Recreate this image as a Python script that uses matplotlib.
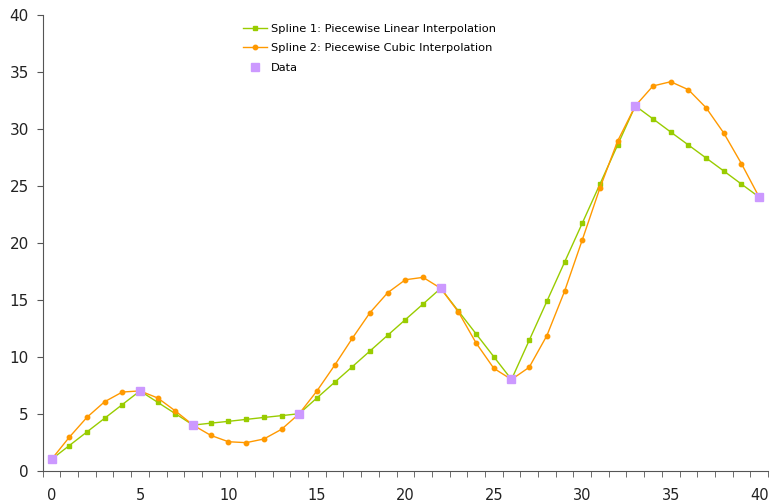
import matplotlib
matplotlib.use('Agg')
import matplotlib.pyplot as plt

# data points
data_x = [0, 5, 8, 14, 22, 26, 33, 40]
data_y = [1, 7, 4, 5, 16, 8, 32, 24]

xs = list(range(41))
linear_y = [1.0, 2.2, 3.4, 4.6, 5.8, 7.0, 6.0, 5.0, 4.0, 4.17, 4.33, 4.5, 4.67, 4.83,
            5.0, 6.38, 7.75, 9.12, 10.5, 11.88, 13.25, 14.62, 16.0, 14.0, 12.0, 10.0,
            8.0, 11.43, 14.86, 18.29, 21.71, 25.14, 28.57, 32.0, 30.86, 29.71, 28.57,
            27.43, 26.29, 25.14, 24.0]
cubic_y = [1.0, 2.93, 4.68, 6.05, 6.9, 7.0, 6.38, 5.24, 4.0, 3.1, 2.54, 2.46, 2.78, 3.63,
           5.0, 6.99, 9.24, 11.61, 13.86, 15.61, 16.75, 16.96, 16.0, 13.92, 11.2, 8.98,
           8.0, 9.07, 11.85, 15.74, 20.24, 24.8, 28.92, 32.0, 33.75, 34.12, 33.42, 31.84,
           29.62, 26.93, 24.0]

fig = plt.figure(figsize=(7.72, 5.03), dpi=100)
ax = fig.add_axes([42.7 / 772, 1 - 470.7 / 503, (768 - 42.7) / 772, (470.7 - 14.7) / 503])

ax.plot(xs, linear_y, color='#99cc00', lw=1, marker='s', ms=3.2,
        label='Spline 1: Piecewise Linear Interpolation')
ax.plot(xs, cubic_y, color='#ff9900', lw=1, marker='o', ms=3.2,
        label='Spline 2: Piecewise Cubic Interpolation')
ax.plot(data_x, data_y, ls='none', marker='s', ms=6, color='#cc99ff', label='Data')

ax.set_xlim(-0.5, 40.5)
ax.set_ylim(0, 40)
ax.set_xticks(range(0, 41, 5))
ax.set_xticks([i - 0.5 for i in range(42)], minor=True)
ax.set_yticks(range(0, 41, 5))

for s in ['top', 'right']:
    ax.spines[s].set_visible(False)
for s in ['left', 'bottom']:
    ax.spines[s].set_color('#555555')

ax.tick_params(axis='x', which='major', length=0, pad=12.5, labelsize=10.5, labelcolor='#222222')
ax.tick_params(axis='x', which='minor', length=4, color='#555555', direction='out')
ax.tick_params(axis='y', length=4, color='#555555', pad=6, labelsize=11, labelcolor='#222222')

ax.legend(loc='upper left', bbox_to_anchor=(237 / 772, 1 - 18 / 503),
          bbox_transform=fig.transFigure, frameon=False, fontsize=8.2,
          handlelength=2.1, handletextpad=0.4, labelspacing=0.85, borderpad=0)

plt.savefig('out.png')
